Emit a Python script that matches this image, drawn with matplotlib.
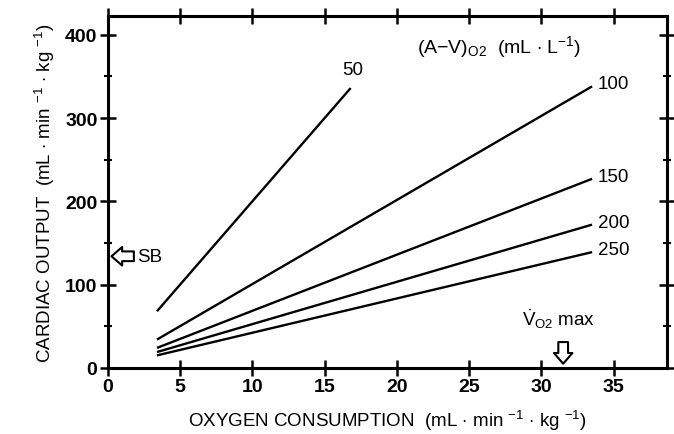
import matplotlib
matplotlib.use("Agg")
import matplotlib.pyplot as plt
from matplotlib.ticker import MultipleLocator

plt.rcParams['font.family'] = ['Liberation Sans', 'DejaVu Sans']
plt.rcParams['mathtext.fontset'] = 'custom'
plt.rcParams['mathtext.rm'] = 'Liberation Sans'
plt.rcParams['mathtext.it'] = 'Liberation Sans'
plt.rcParams['mathtext.bf'] = 'Liberation Sans:bold'

# (A-V)O2 difference lines: start/end points (VO2, cardiac output)
av_labels = ["50", "100", "150", "200", "250"]
x_start = [3.4, 3.4, 3.4, 3.4, 3.4]
y_start = [68, 34, 24, 19, 15]
x_end = [16.8, 33.5, 33.5, 33.5, 33.5]
y_end = [336, 338, 227, 172, 139]

sb_value = 134          # cardiac output marker (SB)
vo2max_value = 31.5     # VO2 max marker

xticks = [0, 5, 10, 15, 20, 25, 30, 35]
yticks = [0, 100, 200, 300, 400]

fig = plt.figure(figsize=(6.74, 4.35), dpi=100)
ax = fig.add_axes([0.160, 0.152, 0.830, 0.808])

for xs, ys, xe, ye in zip(x_start, y_start, x_end, y_end):
    ax.plot([xs, xe], [ys, ye], color='black', lw=1.7, solid_capstyle='butt')

# labels at the line ends
ax.text(x_end[0] - 0.6, y_end[0] + 12, av_labels[0], fontsize=13.5, ha='left', va='bottom')
for i in range(1, 5):
    ax.text(x_end[i] + 0.4, y_end[i] + 3, av_labels[i], fontsize=13.5, ha='left', va='center')

ax.text(21.4, 387, r"(A$-$V)$_{\mathrm{O2}}$  (mL $\cdot$ L$^{-1}$)", fontsize=14, ha='left', va='center')

arrow_style = 'simple,head_length=0.55,head_width=0.95,tail_width=0.5'
# SB arrow
ax.annotate("", xy=(0.25, sb_value), xytext=(1.8, sb_value),
            arrowprops=dict(arrowstyle=arrow_style, fc='white', ec='black', lw=1.5,
                            mutation_scale=14, shrinkA=0, shrinkB=0))
ax.text(2.0, sb_value, "SB", fontsize=13.5, ha='left', va='center')

# VO2 max arrow
ax.annotate("", xy=(vo2max_value, 5), xytext=(vo2max_value, 31),
            arrowprops=dict(arrowstyle=arrow_style, fc='white', ec='black', lw=1.5,
                            mutation_scale=14, shrinkA=0, shrinkB=0))
ax.text(vo2max_value - 0.3, 45, r"$\dot{\mathrm{V}}_{\mathrm{O2}}$ max", fontsize=13.5, ha='center', va='bottom')

ax.set_xlim(0, 38.7)
ax.set_ylim(0, 422)
ax.set_xticks(xticks)
ax.set_yticks(yticks)
ax.yaxis.set_minor_locator(MultipleLocator(50))
ax.tick_params(which='major', direction='inout', length=11, width=1.8, labelsize=14,
               top=True, right=True, pad=2)
ax.tick_params(which='minor', direction='inout', length=6, width=1.5, right=True)
for lab in ax.get_xticklabels() + ax.get_yticklabels():
    lab.set_fontweight('bold')
for s in ax.spines.values():
    s.set_linewidth(2.2)

ax.set_xlabel(r"OXYGEN CONSUMPTION  (mL $\cdot$ min $^{-1}$ $\cdot$ kg $^{-1}$)", fontsize=13.5, labelpad=9)
ax.set_ylabel(r"CARDIAC OUTPUT  (mL $\cdot$ min $^{-1}$ $\cdot$ kg $^{-1}$)", fontsize=13.5, labelpad=6)

fig.savefig("out.png", dpi=100)
